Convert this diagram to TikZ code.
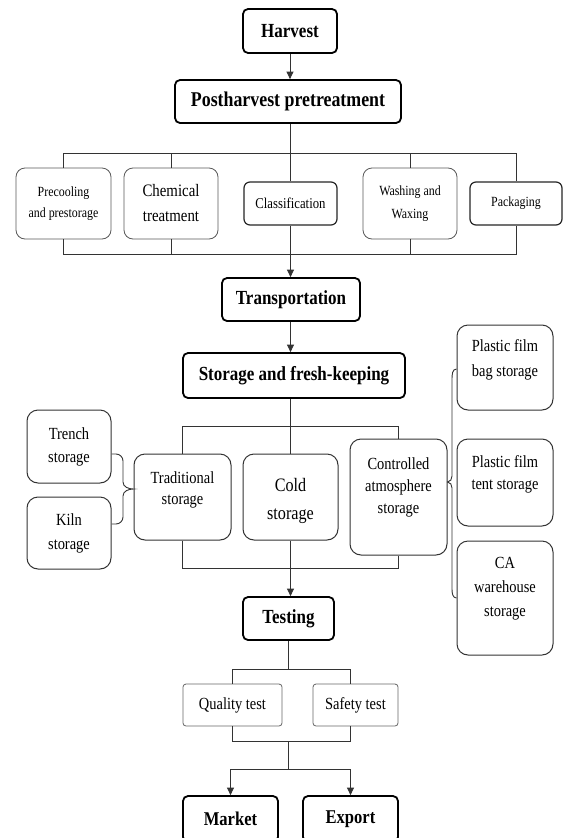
\documentclass[tikz,border=0pt]{standalone}
\usepackage{fontspec}
\setmainfont{Liberation Serif}[FakeStretch=0.85]
\usetikzlibrary{arrows.meta}

\newcommand\fsz[2]{\fontsize{#1}{#2}\selectfont}

\begin{document}
\begin{tikzpicture}[x=1pt,y=-1pt,
  every node/.style={inner sep=0pt, align=center},
  mainbox/.style={draw=black, line width=1.8pt, rounded corners=5pt, fill=white,
    font=\bfseries\fsz{20}{22}},
  softbox/.style={draw=black!65, line width=0.8pt, rounded corners=9pt, fill=white},
  midbox/.style={draw=black!85, line width=1.2pt, rounded corners=6pt, fill=white},
  storebox/.style={draw=black!80, line width=1pt, rounded corners=11pt, fill=white},
  testbox/.style={draw=black!60, line width=0.8pt, rounded corners=3pt, fill=white,
    font=\fsz{17}{20}},
  conn/.style={draw=black!80, line width=0.9pt},
  arr/.style={conn, -{Triangle[length=7.5pt,width=7pt]}},
]
\fill[white] (0,0) rectangle (563,838);
\useasboundingbox (0,0) rectangle (563,838);

% bus levels
\coordinate (busA) at (0,153);
\coordinate (busB) at (0,254);
\coordinate (sbusT) at (0,426);
\coordinate (sbusB) at (0,568);
\coordinate (tbusT) at (0,669);
\coordinate (tbusB) at (0,741);
\coordinate (mbus) at (0,769);

% ---- harvest and pretreatment ----
\node[mainbox, minimum width=94, minimum height=44] (harv) at (290,31) {Harvest};
\node[mainbox, minimum width=226, minimum height=43, font=\bfseries\fsz{21}{23}] (post) at (288,101.5) {Postharvest pretreatment};

\node[softbox, minimum width=95, minimum height=71, font=\fsz{14}{21.5}] (pre) at (63.5,203.5) {Precooling\\and prestorage};
\node[softbox, minimum width=94, minimum height=71, font=\fsz{17.5}{25}] (chem) at (171,203.5) {Chemical\\treatment};
\node[midbox, minimum width=93, minimum height=43, font=\fsz{15}{17}] (clsf) at (290.5,203.5) {Classification};
\node[softbox, minimum width=94, minimum height=71, font=\fsz{14}{23}] (wash) at (410,203.5) {Washing and\\Waxing};
\node[midbox, minimum width=92, minimum height=43, font=\fsz{14}{17}] (pack) at (516,203.5) {Packaging};

% ---- transport and storage ----
\node[mainbox, minimum width=138, minimum height=43] (trans) at (291,299.5) {Transportation};
\node[mainbox, minimum width=222, minimum height=45] (stor) at (294,375.5) {Storage and fresh-keeping};

\node[storebox, minimum width=84, minimum height=73, font=\fsz{17}{23}] (trench) at (69,446.5) {Trench\\storage};
\node[storebox, minimum width=84, minimum height=72, font=\fsz{17}{24}] (kiln) at (69,533) {Kiln\\storage};

\node[storebox, minimum width=97, minimum height=86] (trad) at (182.5,497) {};
\node[font=\fsz{17}{21}] (tradT) at ([yshift=7pt]trad.center) {Traditional\\storage};
\node[storebox, minimum width=95, minimum height=86] (cold) at (290.5,497) {};
\node[font=\fsz{19}{28}] (coldT) at ([yshift=-4pt]cold.center) {Cold\\storage};
\node[storebox, minimum width=97, minimum height=116] (ctrl) at (398.5,497) {};
\node[font=\fsz{17}{22}] (ctrlT) at ([yshift=10pt]ctrl.center) {Controlled\\atmosphere\\storage};

\node[storebox, minimum width=96, minimum height=85] (bag) at (505,367.5) {};
\node[font=\fsz{17}{25}] (bagT) at ([yshift=8pt]bag.center) {Plastic film\\bag storage};
\node[storebox, minimum width=96, minimum height=87] (tent) at (505,482.5) {};
\node[font=\fsz{17}{22}] (tentT) at ([yshift=8pt]tent.center) {Plastic film\\tent storage};
\node[storebox, minimum width=96, minimum height=114] (ca) at (505,598) {};
\node[font=\fsz{17}{24}] (caT) at ([yshift=9pt]ca.center) {CA\\warehouse\\storage};

% ---- testing and outlets ----
\node[mainbox, minimum width=91, minimum height=43] (test) at (288.5,618.5) {Testing};
\node[testbox, minimum width=99, minimum height=42] (qual) at (232.5,705) {Quality test};
\node[testbox, minimum width=85, minimum height=42] (saf) at (355.5,705) {Safety test};
\node[mainbox, minimum width=95, minimum height=46, font=\bfseries\fsz{19.5}{22}] (mkt) at (230.5,819) {Market};
\node[mainbox, minimum width=95, minimum height=46, font=\bfseries\fsz{19.5}{22}] (exp) at (350.5,819) {Export};

% ---- connectors: pretreatment ----
\draw[arr] (harv.south) -- (harv.south |- post.north);
\draw[conn] (clsf.north |- post.south) -- (clsf.north);
\draw[conn] (pre.north) |- (pack.north |- busA) -- (pack.north);
\draw[conn] (chem.north) -- (chem.north |- busA);
\draw[conn] (wash.north) -- (wash.north |- busA);
\draw[conn] (pre.south) |- (pack.south |- busB) -- (pack.south);
\draw[conn] (chem.south) -- (chem.south |- busB);
\draw[conn] (wash.south) -- (wash.south |- busB);
\draw[arr] (clsf.south) -- (clsf.south |- trans.north);

% ---- connectors: storage ----
\draw[arr] (clsf.south |- trans.south) -- (clsf.south |- stor.north);
\draw[conn] (cold.north |- stor.south) -- (cold.north);
\draw[conn] (trad.north) |- (ctrl.north |- sbusT) -- (ctrl.north);
\draw[conn] (trad.south) |- (ctrl.south |- sbusB) -- (ctrl.south);
\draw[arr] (cold.south) -- (cold.south |- test.north);

% brace joining trench and kiln storage to traditional storage
\draw[conn] (trench.east |- 0,454) -- (116,454) to[out=0,in=90] (123,461) -- (123,482)
  to[out=-90,in=180] (trad.west |- 0,489) to[out=180,in=90] (123,496) -- (123,517)
  to[out=-90,in=0] (116,524) -- (kiln.east |- 0,524);

% brace joining controlled atmosphere storage to its three forms
\draw[conn] (bag.west |- 0,369) to[out=180,in=90] (452,379) -- (452,476)
  to[out=-90,in=0] (ctrl.east |- 0,482) to[out=0,in=90] (452,488) -- (452,589)
  to[out=-90,in=180] (ca.west |- 0,598);

% ---- connectors: testing ----
\draw[conn] (test.south) -- (test.south |- tbusT);
\draw[conn] (qual.north) |- (exp.north |- tbusT) -- (exp.north |- saf.north);
\draw[conn] (qual.south) |- (exp.north |- tbusB) -- (exp.north |- saf.south);
\draw[conn] (test.south |- tbusB) -- (test.south |- mbus);
\draw[arr] (test.south |- mbus) -| (mkt.north);
\draw[arr] (test.south |- mbus) -| (exp.north);
\end{tikzpicture}
\end{document}
